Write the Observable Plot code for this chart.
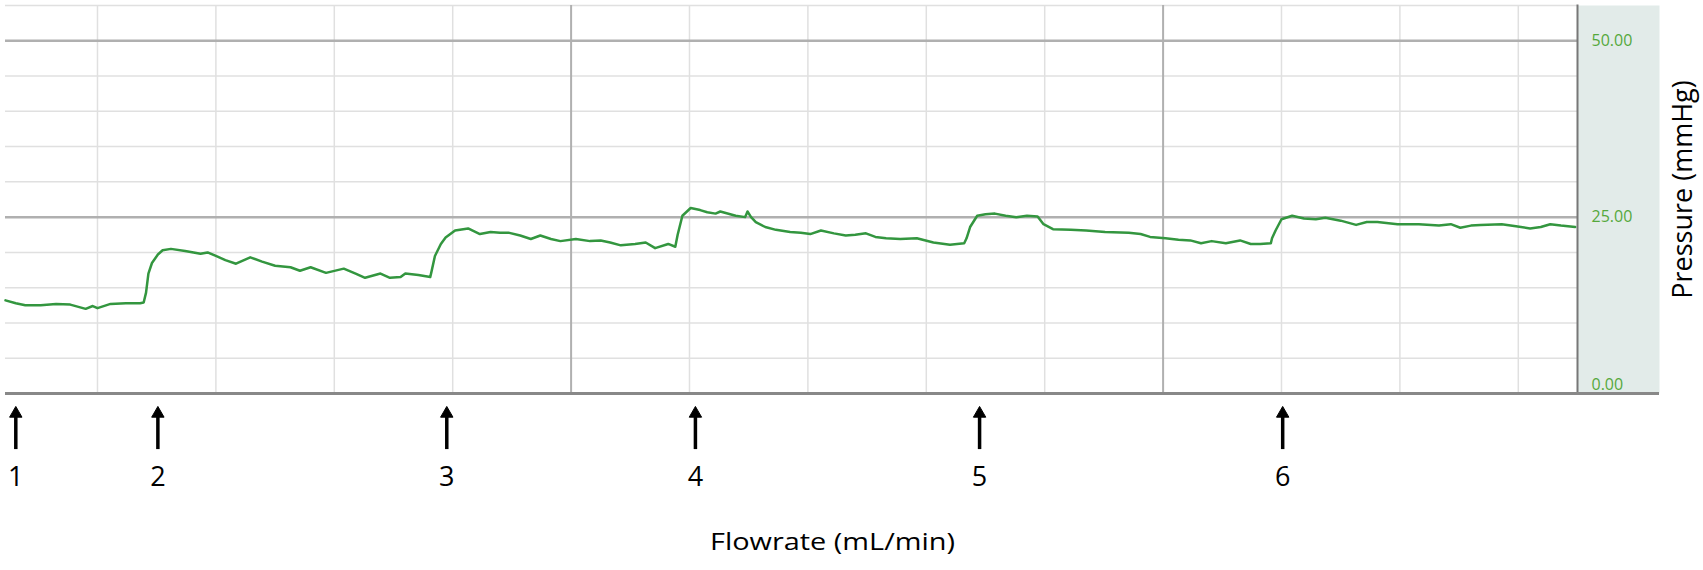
<!DOCTYPE html>
<html><head><meta charset="utf-8">
<script src="https://cdn.jsdelivr.net/npm/d3@7"></script>
<script src="https://cdn.jsdelivr.net/npm/@observablehq/plot@0.6"></script>
<style>html,body{margin:0;padding:0;background:#fff;}</style>
</head><body><div id="chart"></div>
<script>
// time axis (arbitrary units, one minor gridline per unit)
const time = [0.223,0.31,0.39,0.52,0.65,0.77,0.90,0.96,1.00,1.11,1.24,1.36,1.39,1.41,1.43,1.46,1.51,1.55,1.62,1.74,1.87,1.93,2.00,2.08,2.17,2.29,2.39,2.50,2.63,2.71,2.80,2.93,3.08,3.18,3.26,3.39,3.47,3.56,3.60,3.71,3.81,3.82,3.85,3.90,3.94,4.02,4.13,4.23,4.32,4.40,4.47,4.57,4.66,4.74,4.83,4.91,5.04,5.16,5.25,5.33,5.42,5.54,5.63,5.71,5.82,5.88,5.90,5.94,6.01,6.09,6.15,6.22,6.26,6.39,6.47,6.49,6.52,6.56,6.64,6.73,6.85,6.94,7.02,7.11,7.22,7.32,7.40,7.49,7.57,7.66,7.78,7.92,8.06,8.20,8.32,8.34,8.37,8.43,8.50,8.58,8.67,8.76,8.85,8.94,8.99,9.07,9.22,9.35,9.51,9.71,9.81,9.89,10.02,10.13,10.23,10.32,10.41,10.53,10.65,10.74,10.82,10.91,10.92,10.95,11.00,11.09,11.19,11.29,11.37,11.50,11.63,11.72,11.81,11.98,12.16,12.33,12.43,12.51,12.60,12.68,12.86,12.98,13.10,13.19,13.27,13.36,13.48];
// pressure (mmHg)
const pressure = [13.2,12.8,12.5,12.5,12.7,12.6,12.0,12.4,12.1,12.7,12.8,12.8,12.9,14.3,17.0,18.5,19.7,20.3,20.5,20.2,19.8,20.0,19.5,18.9,18.4,19.3,18.7,18.1,17.9,17.4,17.9,17.1,17.7,17.0,16.4,17.0,16.4,16.5,17.0,16.8,16.5,17.2,19.5,21.2,22.1,23.1,23.4,22.6,22.9,22.8,22.8,22.4,21.9,22.4,21.9,21.6,21.9,21.6,21.7,21.4,21.0,21.2,21.4,20.6,21.2,20.8,22.5,25.2,26.3,26.0,25.7,25.5,25.8,25.2,25.0,25.8,25.0,24.3,23.6,23.2,22.9,22.8,22.6,23.1,22.7,22.4,22.5,22.7,22.2,22.0,21.9,22.0,21.4,21.1,21.3,22.0,23.6,25.2,25.4,25.5,25.2,25.0,25.2,25.1,24.0,23.3,23.2,23.1,22.9,22.8,22.6,22.2,22.0,21.8,21.7,21.3,21.6,21.3,21.7,21.2,21.2,21.3,22.0,23.1,24.7,25.2,24.8,24.7,24.9,24.5,23.9,24.3,24.3,24.0,24.0,23.8,24.0,23.5,23.8,23.9,24.0,23.7,23.4,23.6,24.0,23.8,23.6];
// flowrate change markers
const arrowTimes = [0.31,1.51,3.95,6.05,8.45,11.01];
const arrowLabels = ["1","2","3","4","5","6"];
// axis ticks and grid
const yTicks = [0,25,50];
const yMinorGrid = [5,10,15,20,30,35,40,45,55];
const yMajorGrid = [25,50];
const xMinorGrid = [1,2,3,4,6,7,8,9,11,12,13];
const xMajorGrid = [5,10];
const xLabel = "Flowrate (mL/min)";
const yLabel = "Pressure (mmHg)";

const series = time.map((t, i) => ({t, p: pressure[i]}));
const arrows = arrowTimes.map((t, i) => ({t, label: arrowLabels[i]}));

const chart = Plot.plot({
  width: 1703, height: 570,
  marginLeft: 5, marginRight: 126, marginTop: 5, marginBottom: 177,
  x: {domain: [0.223, 13.5], axis: null},
  y: {domain: [0, 55], axis: null},
  style: {fontFamily: "'Open Sans', sans-serif", background: "#fff", overflow: "visible"},
  marks: [
    Plot.frame({fill: "#e2ebe9", stroke: null, insetLeft: 1572, insetRight: -82}),
    Plot.ruleX(xMinorGrid, {stroke: "#e0e0e0", strokeWidth: 1.5}),
    Plot.ruleY(yMinorGrid, {stroke: "#e0e0e0", strokeWidth: 1.5}),
    Plot.ruleX(xMajorGrid, {stroke: "#b0b0b0", strokeWidth: 2}),
    Plot.ruleY(yMajorGrid, {stroke: "#b0b0b0", strokeWidth: 2.5}),
    Plot.frame({anchor: "right", stroke: "#777", strokeWidth: 2}),
    Plot.ruleY([0], {stroke: "#888", strokeWidth: 3, insetRight: -82}),
    Plot.line(series, {x: "t", y: "p", stroke: "#33963f", strokeWidth: 2.5}),
    Plot.text(yTicks.filter(d => d > 0), {y: d => d, text: d => d.toFixed(2), frameAnchor: "right", dx: 14, textAnchor: "start", lineAnchor: "middle", fill: "#55a83c", fontSize: 16}),
    Plot.text(yTicks.filter(d => d === 0), {y: d => d, text: d => d.toFixed(2), frameAnchor: "right", dx: 14, dy: -9, textAnchor: "start", lineAnchor: "middle", fill: "#55a83c", fontSize: 16}),
    Plot.ruleX(arrows, {x: "t", y1: -2.7, y2: -7.95, stroke: "#000", strokeWidth: 3.5}),
    Plot.dot(arrows, {x: "t", y: -2.85, symbol: "triangle", r: 4.6, fill: "#000", stroke: "#000", strokeWidth: 1}),
    Plot.text(arrows, {x: "t", text: "label", frameAnchor: "bottom", textAnchor: "middle", lineAnchor: "middle", dy: 84, fontSize: 27, fill: "#000"}),
    Plot.text([xLabel], {text: d => d, frameAnchor: "bottom", textAnchor: "middle", lineAnchor: "middle", dx: 41, dy: 149, fontSize: 24, fill: "#000"}),
    Plot.text([yLabel], {text: d => d, frameAnchor: "right", textAnchor: "middle", lineAnchor: "middle", rotate: -90, dx: 106, dy: -10, fontSize: 27, fill: "#000"})
  ]
});
d3.select(chart).selectAll("text")
  .filter(function () { return this.textContent === xLabel; })
  .attr("textLength", 245).attr("lengthAdjust", "spacingAndGlyphs");
document.getElementById("chart").appendChild(chart);
</script>
</body></html>
